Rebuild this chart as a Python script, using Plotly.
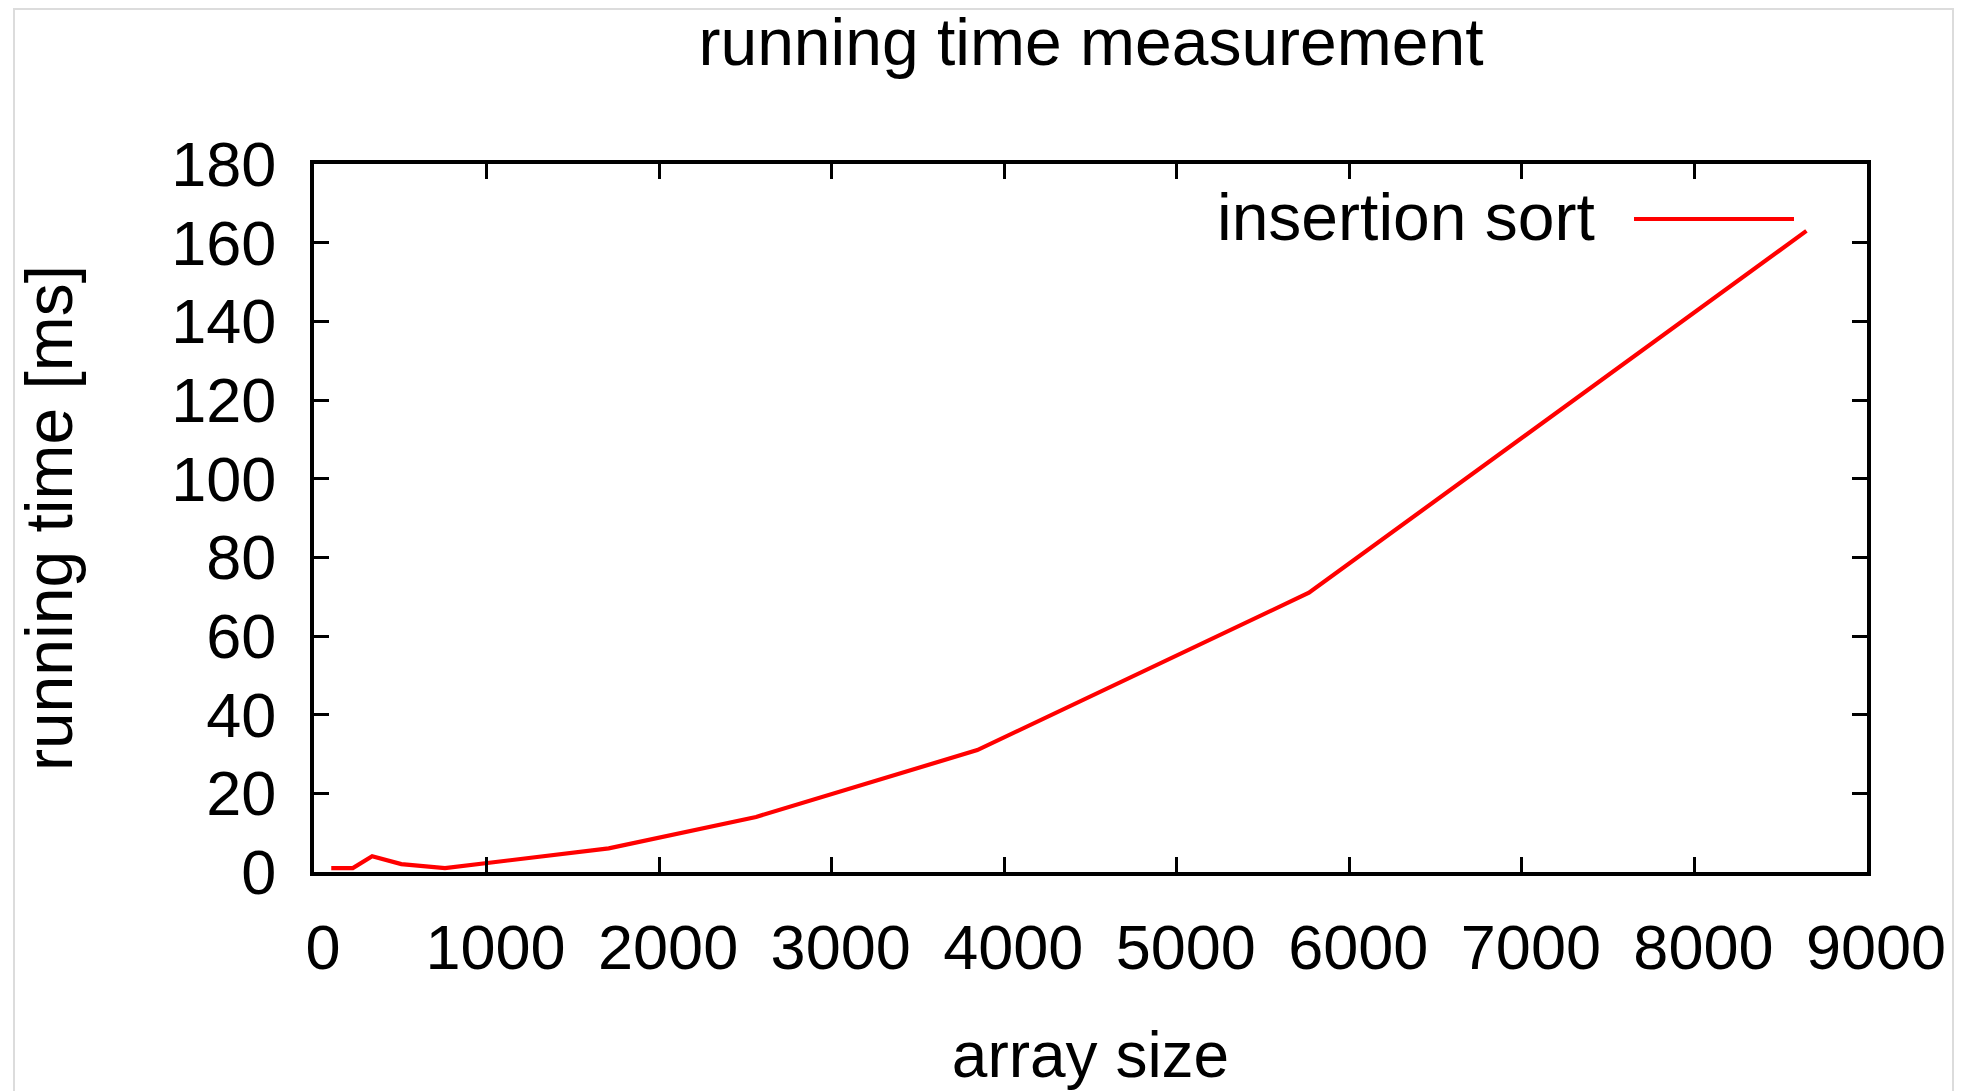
import plotly.graph_objects as go

# data
array_size = [100, 150, 225, 337, 506, 759, 1139, 1708, 2562, 3844, 5766, 8649]
running_ms = [1, 1, 1, 4, 2, 1, 3, 6, 14, 31, 71, 163]
series_name = "insertion sort"
x_ticks = [0, 1000, 2000, 3000, 4000, 5000, 6000, 7000, 8000, 9000]
y_ticks = [0, 20, 40, 60, 80, 100, 120, 140, 160, 180]

W, H = 1977, 1091
L, R, T, B = 314, 1867, 164, 872
pw, ph = R - L, B - T

def px(xp):
    return (xp - L) / pw

def py(yp):
    return (B - yp) / ph

FONT = "Liberation Sans, Arial, Helvetica, sans-serif"

fig = go.Figure()
fig.add_trace(go.Scatter(x=array_size, y=running_ms, mode="lines",
                         name=series_name,
                         line=dict(color="#ff0000", width=4.2),
                         showlegend=False))

axis_common = dict(showgrid=False, zeroline=False, showline=True, automargin=False,
                   linecolor="black", linewidth=4, mirror="ticks",
                   ticks="inside", ticklen=15, tickwidth=3, tickcolor="black",
                   tickfont=dict(family=FONT, size=63, color="black"))

fig.update_layout(
    width=W, height=H,
    margin=dict(l=L, r=W - R, t=T, b=H - B, pad=0, autoexpand=False),
    paper_bgcolor="white", plot_bgcolor="white",
    title=dict(text="running time measurement", x=px(1091), xref="paper",
               xanchor="center", y=1 - 42 / H, yref="container", yanchor="middle",
               font=dict(family=FONT, size=66, color="black")),
    xaxis=dict(range=[0, 9000], tickvals=x_ticks, ticklabelstandoff=17,
               ticklabelshift=9,
               title=dict(text="array size", standoff=62,
                          font=dict(family=FONT, size=64, color="black")),
               **axis_common),
    yaxis=dict(range=[0, 180], tickvals=y_ticks, ticklabelstandoff=21,
               title=dict(text="running time [ms]", standoff=78,
                          font=dict(family=FONT, size=66, color="black")),
               **axis_common),
)

# page frame (light gray border)
fig.add_shape(type="rect", xref="paper", yref="paper",
              x0=px(14), x1=px(1953), y0=py(1200), y1=py(9),
              line=dict(color="#dcdcdc", width=2), layer="below")

# legend drawn gnuplot style: text then sample line at right
fig.add_annotation(text=series_name, xref="paper", yref="paper",
                   x=px(1597), y=py(217), xanchor="right", yanchor="middle",
                   showarrow=False, font=dict(family=FONT, size=66, color="black"))
fig.add_shape(type="line", xref="paper", yref="paper",
              x0=px(1634), x1=px(1794), y0=py(219), y1=py(219),
              line=dict(color="#ff0000", width=4))

fig.write_html("out.html")
